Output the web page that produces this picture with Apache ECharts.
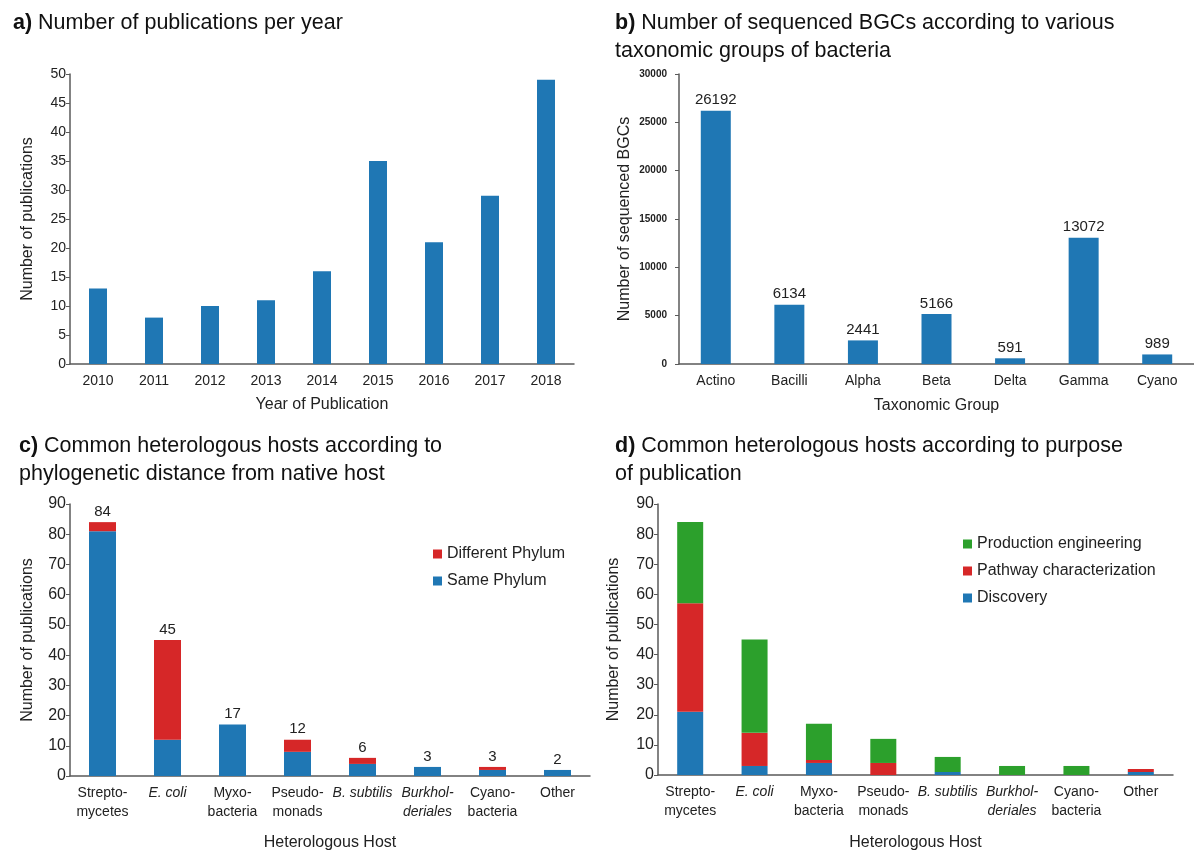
<!DOCTYPE html>
<html>
<head>
<meta charset="utf-8">
<title>Heterologous expression overview</title>
<script src="https://cdn.jsdelivr.net/npm/echarts@6/dist/echarts.min.js"></script>
<style>
  html, body { margin: 0; padding: 0; background: #fff; }
  #main { width: 1194px; height: 852px; }
</style>
</head>
<body>
<div id="main"></div>
<script>
// panel a
var years = ['2010', '2011', '2012', '2013', '2014', '2015', '2016', '2017', '2018'];
var pubsPerYear = [13, 8, 10, 11, 16, 35, 21, 29, 49];

// panel b
var taxGroups = ['Actino', 'Bacilli', 'Alpha', 'Beta', 'Delta', 'Gamma', 'Cyano'];
var bgcCounts = [26192, 6134, 2441, 5166, 591, 13072, 989];

// panels c and d
var hosts = ['Strepto-\nmycetes', 'E. coli', 'Myxo-\nbacteria', 'Pseudo-\nmonads', 'B. subtilis', 'Burkhol-\nderiales', 'Cyano-\nbacteria', 'Other'];
var italicHosts = ['E. coli', 'B. subtilis', 'Burkhol-\nderiales'];
var samePhylum = [81, 12, 17, 8, 4, 3, 2, 2];
var diffPhylum = [3, 33, 0, 4, 2, 0, 1, 0];
var hostTotals = [84, 45, 17, 12, 6, 3, 3, 2];
var discovery = [21, 3, 4, 0, 1, 0, 0, 1];
var pathway = [36, 11, 1, 4, 0, 0, 0, 1];
var production = [27, 31, 12, 8, 5, 3, 3, 0];

var BLUE = '#1f77b4', RED = '#d62728', GREEN = '#2ca02c';
var FONT = '"Liberation Sans", Arial, sans-serif';
var AXIS = '#5a5a5a';

var myChart = echarts.init(document.getElementById('main'));

function titleOf(tag, text, left, top) {
    return {
        left: left, top: top,
        text: '{b|' + tag + '} ' + text,
        textStyle: {
            fontFamily: FONT, fontSize: 21.5, fontWeight: 'normal', color: '#111', lineHeight: 28,
            rich: { b: { fontFamily: FONT, fontSize: 21.5, fontWeight: 'bold', color: '#111' } }
        }
    };
}

function catAxis(idx, data, name, gap, fs) {
    return {
        type: 'category', gridIndex: idx, data: data,
        name: name, nameLocation: 'middle', nameGap: gap,
        nameTextStyle: { fontFamily: FONT, fontSize: 16, color: '#222' },
        axisLine: { lineStyle: { color: AXIS, width: 1.5 } },
        axisTick: { show: false },
        axisLabel: {
            fontFamily: FONT, fontSize: fs, color: '#222', margin: 8, lineHeight: 19, interval: 0,
            formatter: function (v) {
                return italicHosts.indexOf(v) >= 0 ? v.split('\n').map(function (s) { return '{i|' + s + '}'; }).join('\n') : v;
            },
            rich: { i: { fontFamily: FONT, fontSize: fs, fontStyle: 'italic', color: '#222', lineHeight: 19 } }
        }
    };
}

function valAxis(idx, max, interval, name, gap, fs, bold, margin) {
    return {
        type: 'value', gridIndex: idx, min: 0, max: max, interval: interval,
        name: name, nameLocation: 'middle', nameGap: gap,
        nameTextStyle: { fontFamily: FONT, fontSize: 16, color: '#222' },
        axisLine: { show: true, lineStyle: { color: AXIS, width: 1.5 } },
        axisTick: { show: true, length: 4, lineStyle: { color: AXIS } },
        axisLabel: {
            fontFamily: FONT, fontSize: fs, color: '#222', margin: margin,
            fontWeight: bold ? 'bold' : 'normal',
            formatter: function (v) { return String(v); }
        },
        splitLine: { show: false }
    };
}

var labelStyle = { show: true, position: 'top', fontFamily: FONT, fontSize: 15, color: '#222', distance: 3 };

var option = {
    animation: false,
    title: [
        titleOf('a)', 'Number of publications per year', 8, 4),
        titleOf('b)', 'Number of sequenced BGCs according to various\ntaxonomic groups of bacteria', 610, 4),
        titleOf('c)', 'Common heterologous hosts according to\nphylogenetic distance from native host', 14, 427),
        titleOf('d)', 'Common heterologous hosts according to purpose\nof publication', 610, 427)
    ],
    legend: [
        {
            data: ['Different Phylum', 'Same Phylum'], orient: 'vertical', left: 428, top: 541,
            itemWidth: 9, itemHeight: 9, itemGap: 11, icon: 'rect',
            textStyle: { fontFamily: FONT, fontSize: 16, color: '#222' }
        },
        {
            data: ['Production engineering', 'Pathway characterization', 'Discovery'], orient: 'vertical', left: 958, top: 531,
            itemWidth: 9, itemHeight: 9, itemGap: 11, icon: 'rect',
            textStyle: { fontFamily: FONT, fontSize: 16, color: '#222' }
        }
    ],
    grid: [
        { left: 70, width: 504, top: 74, height: 290 },
        { left: 679, width: 524, top: 74, height: 290 },
        { left: 70, width: 520, top: 504, height: 280 },
        { left: 658, width: 515, top: 504, height: 279 }
    ],
    xAxis: [
        catAxis(0, years, 'Year of Publication', 33, 14),
        catAxis(1, taxGroups, 'Taxonomic Group', 34, 14),
        catAxis(2, hosts, 'Heterologous Host', 59, 14),
        catAxis(3, hosts, 'Heterologous Host', 60, 14)
    ],
    yAxis: [
        valAxis(0, 50, 5, 'Number of publications', 34, 14, false, 4),
        valAxis(1, 30000, 5000, 'Number of sequenced BGCs', 46, 10, true, 12),
        valAxis(2, 90, 10, 'Number of publications', 34, 16, false, 4),
        valAxis(3, 90, 10, 'Number of publications', 36, 16, false, 4)
    ],
    series: [
        {
            type: 'bar', xAxisIndex: 0, yAxisIndex: 0, barWidth: 18,
            data: pubsPerYear, itemStyle: { color: BLUE }
        },
        {
            type: 'bar', xAxisIndex: 1, yAxisIndex: 1, barWidth: 30,
            data: bgcCounts, itemStyle: { color: BLUE }, label: labelStyle
        },
        {
            name: 'Same Phylum', type: 'bar', xAxisIndex: 2, yAxisIndex: 2, stack: 'c', barWidth: 27,
            data: samePhylum, itemStyle: { color: BLUE }
        },
        {
            name: 'Different Phylum', type: 'bar', xAxisIndex: 2, yAxisIndex: 2, stack: 'c', barWidth: 27,
            data: diffPhylum, itemStyle: { color: RED },
            label: Object.assign({}, labelStyle, {
                formatter: function (p) { return hostTotals[p.dataIndex]; }
            })
        },
        {
            name: 'Discovery', type: 'bar', xAxisIndex: 3, yAxisIndex: 3, stack: 'd', barWidth: 26,
            data: discovery, itemStyle: { color: BLUE }
        },
        {
            name: 'Pathway characterization', type: 'bar', xAxisIndex: 3, yAxisIndex: 3, stack: 'd', barWidth: 26,
            data: pathway, itemStyle: { color: RED }
        },
        {
            name: 'Production engineering', type: 'bar', xAxisIndex: 3, yAxisIndex: 3, stack: 'd', barWidth: 26,
            data: production, itemStyle: { color: GREEN }
        }
    ]
};

myChart.setOption(option);
</script>
</body>
</html>
